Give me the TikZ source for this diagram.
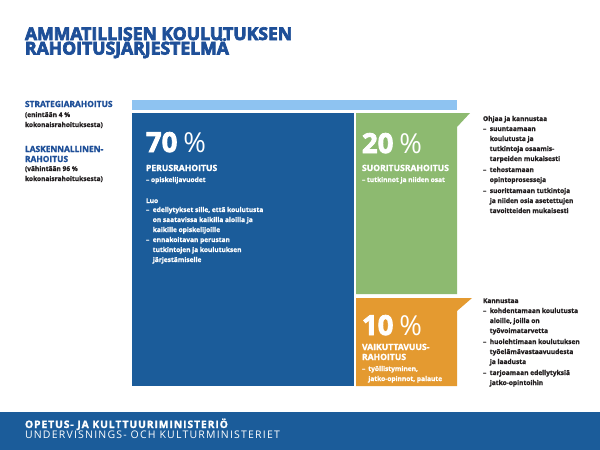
\documentclass[tikz,border=0pt]{standalone}
\usepackage{fontspec}
\setmainfont{Open Sans}
\definecolor{dblue}{HTML}{1B5C9A}
\definecolor{tblue}{HTML}{1E4F98}
\definecolor{lbar}{HTML}{8EC3F1}
\definecolor{fgreen}{HTML}{8DBA70}
\definecolor{forange}{HTML}{E49A30}
\definecolor{ink}{HTML}{231F20}
\tikzset{
  txt/.style={anchor=base west, inner sep=0pt, outer sep=0pt},
  title/.style={txt, text=tblue, font=\fontsize{17.6}{14}\selectfont\bfseries\addfontfeatures{FakeBold=4}},
  lab/.style={txt, text=tblue, font=\fontsize{8.4}{10}\selectfont\bfseries\addfontfeatures{FakeBold=1.5}},
  note/.style={txt, text=ink, font=\fontsize{6.6}{10}\selectfont\bfseries\addfontfeatures{FakeBold=1}},
  big/.style={txt, text=white, font=\fontsize{27.5}{27}\selectfont\bfseries\addfontfeatures{FakeBold=3}},
  head/.style={txt, text=white, font=\fontsize{8.6}{10}\selectfont\bfseries\addfontfeatures{FakeBold=1.5}},
  wsmall/.style={txt, text=white, font=\fontsize{6.6}{10}\selectfont\bfseries\addfontfeatures{FakeBold=1}},
  bsmall/.style={txt, text=ink, font=\fontsize{6.6}{10}\selectfont\bfseries\addfontfeatures{FakeBold=1}},
}
\newcommand{\pct}{\hspace{0.22em}{\mdseries\addfontfeatures{FakeBold=0}\%}}
\begin{document}
\begin{tikzpicture}[x=1pt,y=-1pt]
\useasboundingbox (0,0) rectangle (600,450);
\fill[white] (0,0) rectangle (600,450);
% shapes
\fill[lbar] (132,100) rectangle (457,110);
\fill[dblue] (132,113) rectangle (354,386);
\fill[fgreen] (356,113) -- (470,113) -- (457,127) -- (457,294) -- (356,294) -- cycle;
\fill[forange] (356,298) -- (472,298) -- (457,311) -- (457,386) -- (356,386) -- cycle;
\fill[dblue] (0,412) rectangle (600,450);
% title
\node[title] (t1) at (25,40) {AMMATILLISEN KOULUTUKSEN};
\node[title] (t2) at (25,54.5) {RAHOITUSJÄRJESTELMÄ};
% left labels
\node[lab] (s1) at (25,107) {STRATEGIARAHOITUS};
\node[note] (s2) at (25,117) {\begin{tabular}[t]{@{}l@{}}(enintään 4 \%\\kokonaisrahoituksesta)\end{tabular}};
\node[lab] (l1) at (25,152) {\begin{tabular}[t]{@{}l@{}}LASKENNALLINEN-\\RAHOITUS\end{tabular}};
\node[note] (l2) at (25,171) {\begin{tabular}[t]{@{}l@{}}(vähintään 96 \%\\kokonaisrahoituksesta)\end{tabular}};
% blue box
\node[big] (p70) at (146,152) {70\pct};
\node[head] (h70) at (146,171) {PERUSRAHOITUS};
\node[wsmall] (d70) at (146,182) {– opiskelijavuodet};
\node[wsmall] (luo) at (146,203) {Luo};
\node[wsmall] (b70) at (146,212) {\begin{tabular}[t]{@{}l@{\hspace{3.5pt}}l@{}}
–& edellytykset sille, että koulutusta\\
 & on saatavissa kaikilla aloilla ja\\
 & kaikille opiskelijoille\\
–& ennakoitavan perustan\\
 & tutkintojen ja koulutuksen\\
 & järjestämiselle\end{tabular}};
% green box
\node[big] (p20) at (362,153) {20\pct};
\node[head] (h20) at (362,171) {SUORITUSRAHOITUS};
\node[wsmall] (d20) at (362,182) {– tutkinnot ja niiden osat};
% orange box
\node[big] (p10) at (362,335) {10\pct};
\node[head] (h10) at (362,350) {\begin{tabular}[t]{@{}l@{}}VAIKUTTAVUUS-\\RAHOITUS\end{tabular}};
\node[wsmall] (d10) at (362,371) {\begin{tabular}[t]{@{}l@{\hspace{3pt}}l@{}}
–& työllistyminen,\\
 & jatko-opinnot, palaute\end{tabular}};
% right notes
\node[bsmall] (o1) at (483,121) {Ohjaa ja kannustaa};
\node[bsmall] (o2) at (483,131) {\begin{tabular}[t]{@{}l@{\hspace{3.5pt}}l@{}}
–& suuntaamaan\\
 & koulutusta ja\\
 & tutkintoja osaamis-\\
 & tarpeiden mukaisesti\\[1pt]
–& tehostamaan\\
 & opintoprosesseja\\[1pt]
–& suorittamaan tutkintoja\\
 & ja niiden osia asetettujen\\
 & tavoitteiden mukaisesti\end{tabular}};
\node[bsmall] (k1) at (483,303) {Kannustaa};
\node[bsmall] (k2) at (483,313) {\begin{tabular}[t]{@{}l@{\hspace{3.5pt}}l@{}}
–& kohdentamaan koulutusta\\
 & aloille, joilla on\\
 & työvoimatarvetta\\[1pt]
–& huolehtimaan koulutuksen\\
 & työelämävastaavuudesta\\
 & ja laadusta\\[1pt]
–& tarjoamaan edellytyksiä\\
 & jatko-opintoihin\end{tabular}};
% footer
\node[txt, text=white, font=\fontsize{10.3}{10}\selectfont\bfseries\addfontfeatures{LetterSpace=9,FakeBold=1.5}] (f1) at (25,428) {OPETUS- JA KULTTUURIMINISTERIÖ};
\node[txt, text=white, font=\fontsize{10.5}{10}\selectfont\addfontfeatures{LetterSpace=11.5}] (f2) at (25,438.5) {UNDERVISNINGS- OCH KULTURMINISTERIET};
\end{tikzpicture}
\end{document}
